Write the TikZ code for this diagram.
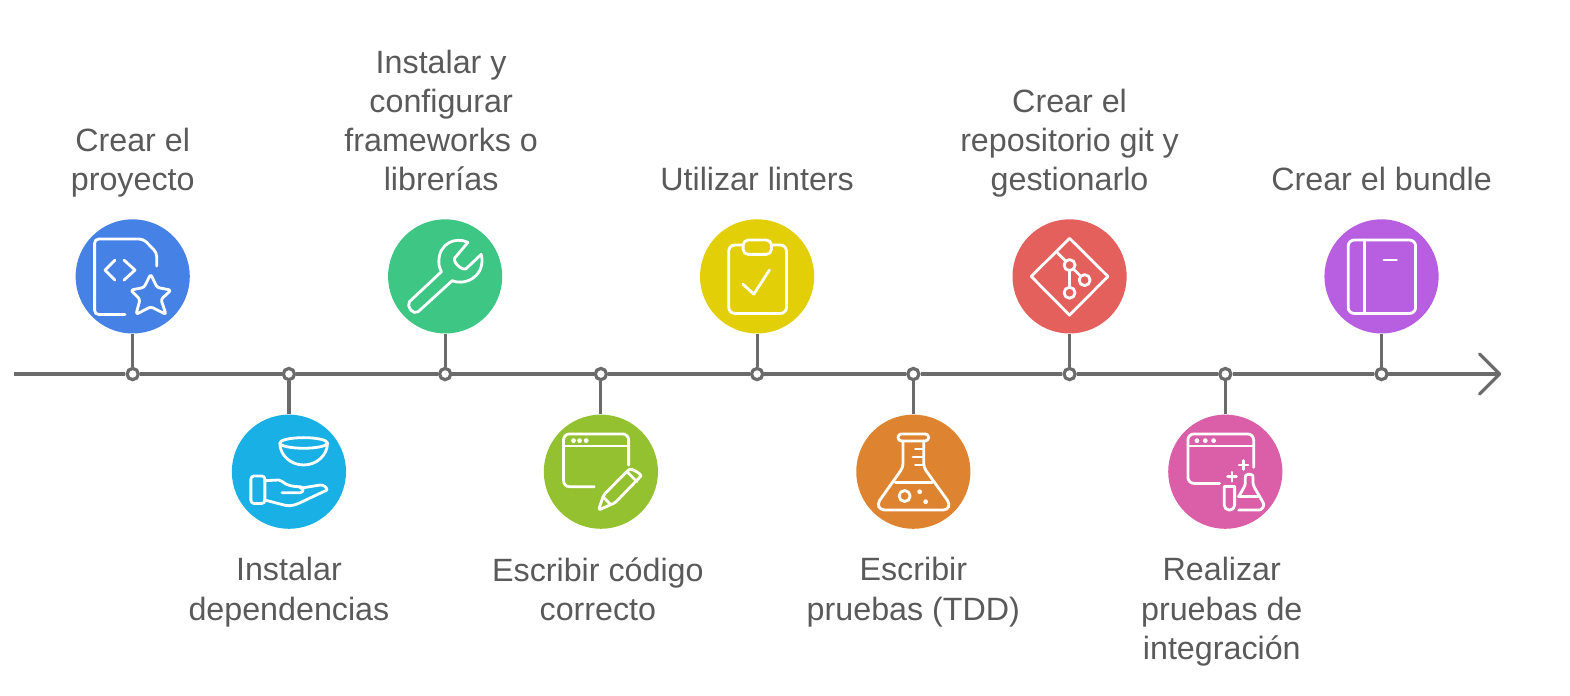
\documentclass[tikz,border=0pt]{standalone}
\usepackage{fontspec}
\setmainfont{Liberation Sans}
\usetikzlibrary{positioning}
\usetikzlibrary{arrows.meta}

\definecolor{axisgray}{HTML}{6B6B6B}
\definecolor{textgray}{HTML}{5A5A5A}
\definecolor{cblue}{HTML}{4682E6}
\definecolor{ccyan}{HTML}{18B0E5}
\definecolor{cgreen}{HTML}{3EC684}
\definecolor{colive}{HTML}{94C12F}
\definecolor{cyellow}{HTML}{E3CF07}
\definecolor{cred}{HTML}{E4605D}
\definecolor{corange}{HTML}{DE8431}
\definecolor{cpink}{HTML}{DB5EA8}
\definecolor{cpurple}{HTML}{B75FE0}

\tikzset{
    axisline/.style={draw=axisgray, line width=1.6pt},
    tick/.style={circle, draw=axisgray, fill=white, line width=1.6pt, inner sep=0pt, minimum size=5.6pt},
    disc/.style={circle, inner sep=0pt, minimum size=57pt},
    icon/.style={draw=white, line width=1.4pt, line cap=round, line join=round},
    icondot/.style={fill=white},
    lbl/.style={font=\fontsize{16.1}{19.5}\selectfont, text=textgray, align=center, inner sep=0pt}
}

\begin{document}
\begin{tikzpicture}[x=0.5pt, y=-0.5pt]
    \useasboundingbox (0,0) rectangle (1567.7,694.7);

    \coordinate (in)  at (14,373.5);
    \coordinate (out) at (1499,373.5);

    % ticks on the axis
    \node[tick] (t1) at (132.5,373.5) {};
    \node[tick] (t2) at (288.5,373.5) {};
    \node[tick] (t3) at (444.5,373.5) {};
    \node[tick] (t4) at (600,373.5) {};
    \node[tick] (t5) at (756,373.5) {};
    \node[tick] (t6) at (912,373.5) {};
    \node[tick] (t7) at (1068,373.5) {};
    \node[tick] (t8) at (1223.5,373.5) {};
    \node[tick] (t9) at (1379.5,373.5) {};

    % Discs
    \node[disc, fill=cblue] (c1) at (132.5,276) {};
    \node[disc, fill=ccyan] (c2) at (288.5,471) {};
    \node[disc, fill=cgreen] (c3) at (444.5,276) {};
    \node[disc, fill=colive] (c4) at (600,471) {};
    \node[disc, fill=cyellow] (c5) at (756,276) {};
    \node[disc, fill=cred] (c6) at (1068,276) {};
    \node[disc, fill=corange] (c7) at (912,471) {};
    \node[disc, fill=cpink] (c8) at (1223.5,471) {};
    \node[disc, fill=cpurple] (c9) at (1379.5,276) {};

    % Labels
    \node[lbl, above=8pt of c1] (l1) {Crear el\\proyecto\strut};
    \node[lbl, below=14pt of c2] (l2) {Instalar\\dependencias};
    \node[lbl, above=8pt of c3, xshift=-2pt] (l3) {Instalar y\\configurar\\frameworks o\\librerías\strut};
    \node[lbl, below=14pt of c4, xshift=-1.5pt] (l4) {Escribir código\\correcto};
    \node[lbl, above=8pt of c5] (l5) {Utilizar linters\strut};
    \node[lbl, above=8pt of c6] (l6) {Crear el\\repositorio git y\\gestionarlo\strut};
    \node[lbl, below=14pt of c7] (l7) {Escribir\\pruebas (TDD)};
    \node[lbl, below=14pt of c8, xshift=-1.75pt] (l8) {Realizar\\pruebas de\\integración};
    \node[lbl, above=8pt of c9] (l9) {Crear el bundle\strut};

    % Lines
    \draw[axisline] (in) -- (t1) -- (t2) -- (t3) -- (t4) -- (t5) -- (t6) -- (t7) -- (t8) -- (t9);
    \draw[axisline, line cap=round, -{Straight Barb[length=10pt, width=20pt, round]}] (t9) -- (out);
    \draw[axisline] (t1) -- (c1);
    \draw[axisline] (t2) -- (c2);
    \draw[axisline] (t3) -- (c3);
    \draw[axisline] (t4) -- (c4);
    \draw[axisline] (t5) -- (c5);
    \draw[axisline] (t6) -- (c7);
    \draw[axisline] (t7) -- (c6);
    \draw[axisline] (t8) -- (c8);
    \draw[axisline] (t9) -- (c9);

    % code file and star
    \begin{scope}[shift={(c1.center)}]
        \draw[icon, rounded corners=2pt] (24,-10.3) -- (24,-23.7) -- (10.7,-37.3) -- (-38,-37.3) -- (-38,38) -- (-7.7,38);
        \draw[icon] (-17.7,-16.3) -- (-27.7,-6.3) -- (-17.7,3.7);
        \draw[icon] (-8.7,-16.3) -- (2.3,-6.3) -- (-8.7,3.7);
        \draw[icon, rounded corners=1.2pt] (18,-2.3) -- (24.3,11) -- (38.3,13.7) -- (28.3,23) -- (33.3,38) -- (18,30.3) -- (3.3,38) -- (7.3,23) -- (-2,13.7) -- (11.3,11) -- cycle;
    \end{scope}

    % hand and bowl
    \begin{scope}[shift={(c2.center)}]
        \draw[icon] (14.7,-28.7) ellipse (23.8 and 5.3);
        \draw[icon] (-9.1,-28.7) arc[start angle=180, end angle=0, x radius=23.8, y radius=22];
        \draw[icon, rounded corners=1.5pt] (-38,4.3) rectangle (-24,31.7);
        \draw[icon] (-24,9) -- (-10.3,8.3) .. controls (-5,9) and (-5,15) .. (11.3,15) .. controls (15,15) and (15,21) .. (11.3,21) -- (-7,21);
        \draw[icon] (11.3,16.5) -- (31.3,13.3) .. controls (35,13) and (38,16) .. (38,18.3) -- (10,31.5) .. controls (4,34.5) and (-2,34.5) .. (-6,33) -- (-24,28.3);
    \end{scope}

    % wrench
    \begin{scope}[shift={(c3.center)}]
        \draw[icon] (22.7,-34) .. controls (10,-40) and (-6.3,-33) .. (-6.3,-14.7) .. controls (-6.3,-10) and (-5,-7) .. (-3.7,-4.7) -- (-35.7,25.3) .. controls (-39,30) and (-32,39) .. (-27,35.3) -- (7,4.3) .. controls (22,10) and (41,-2) .. (36,-22) -- (21.3,-8) .. controls (17,-5) and (8,-14) .. (9.3,-18) -- cycle;
    \end{scope}

    % window and pencil
    \begin{scope}[shift={(c4.center)}]
        \draw[icon, rounded corners=3pt] (27.7,-6.7) -- (27.7,-37.7) -- (-37.3,-37.7) -- (-37.3,15) -- (-6.7,15);
        \draw[icon] (-37.3,-25.7) -- (27.7,-25.7);
        \fill[icondot] (-27.3,-31) circle (2.4);
        \fill[icondot] (-21.3,-31) circle (2.4);
        \fill[icondot] (-14.7,-31) circle (2.4);
        \draw[icon, rounded corners=1pt] (-2.3,38.3) -- (2.7,23.3) -- (26.7,-1) .. controls (31,-4) and (41,3) .. (38.7,5.7) -- (14.3,31) -- cycle;
        \draw[icon] (26.7,0.7) -- (36,10);
        \draw[icon] (2.7,25.7) -- (10,33);
    \end{scope}

    % clipboard and check mark
    \begin{scope}[shift={(c5.center)}]
        \draw[icon, rounded corners=3pt] (-14.3,-31.3) -- (-28.3,-31.3) -- (-28.3,37) -- (29.3,37) -- (29.3,-31.3) -- (14.3,-31.3);
        \draw[icon, rounded corners=2.5pt] (-14,-36.3) rectangle (14.3,-22);
        \draw[icon] (-14.3,7.7) -- (-3.3,17.7) -- (12.3,-6.3);
    \end{scope}

    % git diamond
    \begin{scope}[shift={(c6.center)}]
        \draw[icon] (0,-38) -- (38.3,0) -- (0,38.7) -- (-38.3,0) -- cycle;
        \draw[icon] (0,-11.3) circle (5.5);
        \draw[icon] (15,3.7) circle (5.5);
        \draw[icon] (0,16.3) circle (5.5);
        \draw[icon] (-12.3,-23.7) -- (-3.5,-14.8);
        \draw[icon] (0,-5.8) -- (0,10.8);
        \draw[icon] (3.9,-7.4) -- (11.1,-0.2);
    \end{scope}

    % flask
    \begin{scope}[shift={(c7.center)}]
        \draw[icon, rounded corners=1.7pt] (-15.3,-37.7) rectangle (15.3,-30.7);
        \draw[icon, rounded corners=2pt] (-10.3,-30.7) -- (-10.3,-4.3) -- (-36,32) -- (-33,38.3) -- (34,38.3) -- (36.5,32) -- (10.3,-4.3) -- (10.3,-30.7);
        \draw[icon] (-18,10.7) -- (18.7,10.7);
        \draw[icon] (2,-22.7) -- (8.7,-22.7);
        \draw[icon] (-0.3,-14.7) -- (8.7,-14.7);
        \draw[icon] (2,-6.7) -- (8.7,-6.7);
        \draw[icon] (-8.7,24.3) circle (5.5);
        \fill[icondot] (6.3,20) circle (2.4);
        \fill[icondot] (12.3,30) circle (2.4);
    \end{scope}

    % window, tube and flask
    \begin{scope}[shift={(c8.center)}]
        \draw[icon, rounded corners=3pt] (28.3,-4.3) -- (28.3,-37.7) -- (-37.3,-37.7) -- (-37.3,11.7) -- (-5.7,11.7);
        \draw[icon] (-37.3,-25.7) -- (28.3,-25.7);
        \fill[icondot] (-28.3,-31) circle (2.4);
        \fill[icondot] (-20,-31) circle (2.4);
        \fill[icondot] (-11.7,-31) circle (2.4);
        \draw[icon] (18.3,-11.2) -- (18.3,-2.2);
        \draw[icon] (13.8,-6.7) -- (22.8,-6.7);
        \draw[icon] (6.7,0.5) -- (6.7,9.5);
        \draw[icon] (2.2,5) -- (11.2,5);
        \draw[icon] (-1,15) -- (9.3,15);
        \draw[icon, rounded corners=2.4pt] (-1,15) -- (-1,38.3) -- (9.3,38.3) -- (9.3,15);
        \draw[icon] (13.3,25) -- (34.3,25);
        \draw[icon, rounded corners=1.2pt] (13.3,25) -- (20,13.3) -- (20,2.7) -- (27.7,2.7) -- (27.7,13.3) -- (39,33) -- (36,38.3) -- (13.3,38.3);
    \end{scope}

    % book
    \begin{scope}[shift={(c9.center)}]
        \draw[icon, rounded corners=3pt] (-33.3,-36.3) rectangle (34,37);
        \draw[icon] (-16.7,-36.3) -- (-16.7,37);
        \draw[icon] (2.3,-16.3) -- (15,-16.3);
    \end{scope}
\end{tikzpicture}
\end{document}
